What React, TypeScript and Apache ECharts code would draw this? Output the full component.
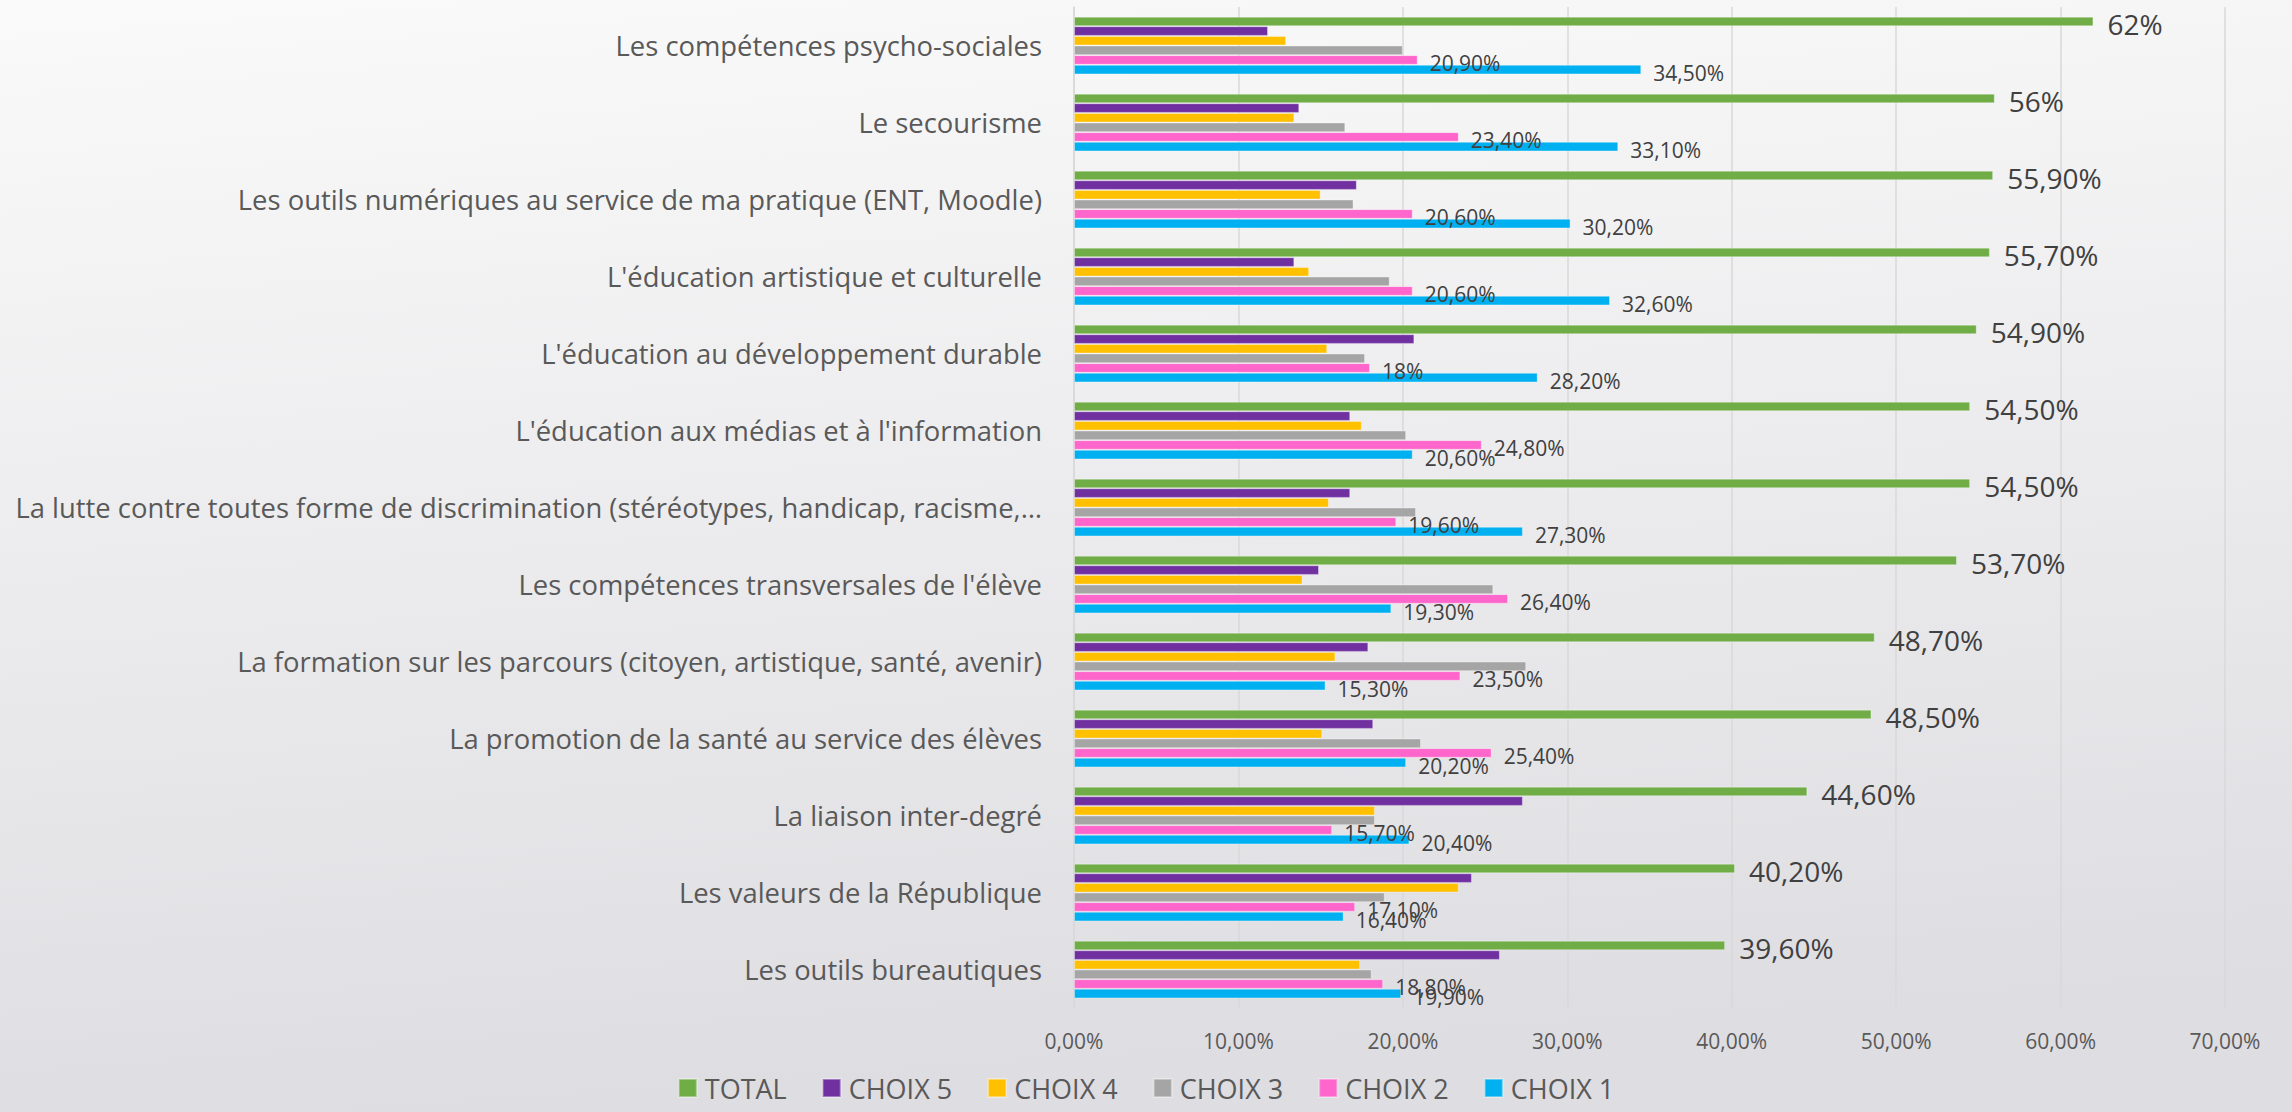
import React, { useEffect, useRef } from "react";
import * as echarts from "echarts";

const categories = [
  "Les compétences psycho-sociales",
  "Le secourisme",
  "Les outils numériques au service de ma pratique (ENT, Moodle)",
  "L'éducation artistique et culturelle",
  "L'éducation au développement durable",
  "L'éducation aux médias et à l'information",
  "La lutte contre toutes forme de discrimination (stéréotypes, handicap, racisme,…",
  "Les compétences transversales de l'élève",
  "La formation sur les parcours (citoyen, artistique, santé, avenir)",
  "La promotion de la santé au service des élèves",
  "La liaison inter-degré",
  "Les valeurs de la République",
  "Les outils bureautiques",
];

const total = [62, 56, 55.9, 55.7, 54.9, 54.5, 54.5, 53.7, 48.7, 48.5, 44.6, 40.2, 39.6];
const choix5 = [11.8, 13.7, 17.2, 13.4, 20.7, 16.8, 16.8, 14.9, 17.9, 18.2, 27.3, 24.2, 25.9];
const choix4 = [12.9, 13.4, 15.0, 14.3, 15.4, 17.5, 15.5, 13.9, 15.9, 15.1, 18.3, 23.4, 17.4];
const choix3 = [20.0, 16.5, 17.0, 19.2, 17.7, 20.2, 20.8, 25.5, 27.5, 21.1, 18.3, 18.9, 18.1];
const choix2 = [20.9, 23.4, 20.6, 20.6, 18, 24.8, 19.6, 26.4, 23.5, 25.4, 15.7, 17.1, 18.8];
const choix1 = [34.5, 33.1, 30.2, 32.6, 28.2, 20.6, 27.3, 19.3, 15.3, 20.2, 20.4, 16.4, 19.9];

const seriesNames = ["TOTAL", "CHOIX 5", "CHOIX 4", "CHOIX 3", "CHOIX 2", "CHOIX 1"];
const seriesColors = ["#70AD47", "#7030A0", "#FFC000", "#A5A5A5", "#FF66CC", "#00B0F0"];
const seriesData = [total, choix5, choix4, choix3, choix2, choix1];
const labelled = [true, false, false, false, true, true];

const axisMin = 0;
const axisMax = 70;
const axisStep = 10;

const FONT = "'Open Sans', 'Noto Sans', sans-serif";

const fmtPct = (v: number) =>
  Number.isInteger(v) ? `${v}%` : `${v.toFixed(2).replace(".", ",")}%`;
const fmtTick = (v: number) => `${v.toFixed(2).replace(".", ",")}%`;

export default function App() {
  const ref = useRef<HTMLDivElement>(null);

  useEffect(() => {
    document.body.style.margin = "0";
    if (!ref.current) return;
    const chart = echarts.init(ref.current, null, { renderer: "svg" });

    const series = seriesNames.map((name, i) => ({
      name,
      type: "bar",
      data: seriesData[i],
      barGap: "0%",
      barCategoryGap: "25%",
      itemStyle: {
        color: seriesColors[i],
        borderColor: "rgba(255,255,255,0.35)",
        borderWidth: 1,
      },
      label: labelled[i]
        ? {
            show: true,
            position: "right",
            distance: i === 0 ? 14 : 12,
            offset: [0, 3],
            color: "#404040",
            fontFamily: FONT,
            fontSize: i === 0 ? 28 : 21,
            formatter: (p: any) => fmtPct(p.value),
          }
        : { show: false },
    }));

    chart.setOption({
      animation: false,
      backgroundColor: new echarts.graphic.LinearGradient(0, 0, 0.15, 1, [
        { offset: 0, color: "#fafafa" },
        { offset: 1, color: "#dedde1" },
      ]),
      textStyle: { fontFamily: FONT },
      legend: {
        data: seriesNames,
        left: "center",
        top: 1068,
        icon: "rect",
        itemWidth: 18,
        itemHeight: 18,
        itemGap: 35,
        textStyle: {
          color: "#595959",
          fontSize: 27,
          lineHeight: 30,
          fontFamily: FONT,
          padding: [0, 0, 0, 3],
        },
      },
      grid: {
        left: 1074,
        right: 67,
        top: 7,
        bottom: 104,
        containLabel: false,
      },
      xAxis: {
        type: "value",
        min: axisMin,
        max: axisMax,
        interval: axisStep,
        axisLine: { show: false },
        axisTick: { show: false },
        splitLine: { show: true, lineStyle: { color: "#d9d9d9", width: 1.5 } },
        axisLabel: {
          color: "#595959",
          fontSize: 21,
          fontFamily: FONT,
          margin: 22,
          formatter: (v: number) => fmtTick(v),
        },
      },
      yAxis: {
        type: "category",
        data: categories,
        inverse: true,
        axisLine: { show: true, lineStyle: { color: "#d9d9d9", width: 1.5 } },
        axisTick: { show: false },
        axisLabel: {
          color: "#595959",
          fontSize: 27.4,
          fontFamily: FONT,
          margin: 32,
        },
      },
      series,
    });

    return () => chart.dispose();
  }, []);

  return (
    <div
      ref={ref}
      style={{ position: "absolute", left: 0, top: 0, width: 2292, height: 1112 }}
    />
  );
}
